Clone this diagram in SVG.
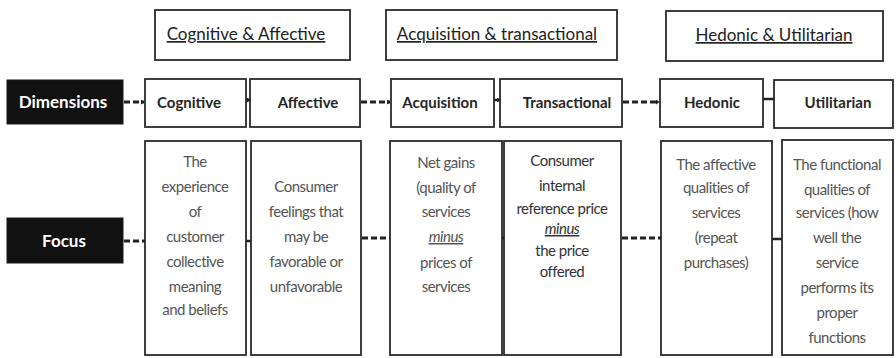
<svg xmlns="http://www.w3.org/2000/svg" width="896" height="358" viewBox="0 0 896 358">
  <style>
    .box { fill: #ffffff; stroke: #2b2b2b; stroke-width: 1.8; }
    .dark { fill: #111111; stroke: #1a1a1a; stroke-width: 1; }
    .title { font-family: Lato, "Liberation Sans", sans-serif; font-size: 17px; fill: #222; text-anchor: middle; text-decoration: underline; }
    .label { font-family: Lato, "Liberation Sans", sans-serif; font-size: 15px; font-weight: bold; fill: #262626; text-anchor: middle; }
    .head { font-family: Lato, "Liberation Sans", sans-serif; font-size: 17px; font-weight: bold; fill: #ffffff; text-anchor: middle; }
    .body { font-family: Lato, "Liberation Sans", sans-serif; font-size: 15px; fill: #555; text-anchor: middle; letter-spacing: -0.5px; }
    .body2 { font-family: Lato, "Liberation Sans", sans-serif; font-size: 15px; fill: #333; text-anchor: middle; letter-spacing: -0.5px; }
    .em { font-style: italic; text-decoration: underline; }
    .dash { stroke: #222; stroke-width: 3; stroke-dasharray: 6 3; fill: none; }
    .solid { stroke: #222; stroke-width: 2.5; fill: none; }
  </style>
  <defs>
    <marker id="tip" viewBox="0 0 6 8" refX="5" refY="4" markerWidth="4" markerHeight="5" orient="auto" markerUnits="userSpaceOnUse">
      <path d="M0,0 L6,4 L0,8 Z" fill="#222"/>
    </marker>
  </defs>

  <rect width="896" height="358" fill="#ffffff"/>

  <!-- category headers -->
  <g id="hdr-cognitive-affective">
    <rect class="box" x="155" y="10" width="195" height="50"/>
    <text class="title" x="246" y="40">Cognitive &amp; Affective</text>
  </g>
  <g id="hdr-acquisition-transactional">
    <rect class="box" x="386" y="10" width="231" height="50"/>
    <text class="title" x="497" y="40">Acquisition &amp; transactional</text>
  </g>
  <g id="hdr-hedonic-utilitarian">
    <rect class="box" x="666" y="11" width="217" height="50"/>
    <text class="title" x="774" y="41">Hedonic &amp; Utilitarian</text>
  </g>

  <!-- row headings -->
  <g id="dimensions">
    <rect class="dark" x="7" y="80" width="116" height="44"/>
    <text class="head" x="63" y="108">Dimensions</text>
  </g>
  <g id="focus">
    <rect class="dark" x="7" y="218" width="116" height="45"/>
    <text class="head" x="64" y="247">Focus</text>
  </g>

  <!-- dimension boxes -->
  <g id="dim-cognitive">
    <rect class="box" x="145" y="79" width="101" height="48"/>
    <text class="label" x="189" y="108">Cognitive</text>
  </g>
  <g id="dim-affective">
    <rect class="box" x="250" y="79" width="110" height="48"/>
    <text class="label" x="308" y="108">Affective</text>
  </g>
  <g id="dim-acquisition">
    <rect class="box" x="391" y="79" width="103" height="48"/>
    <text class="label" x="440" y="108">Acquisition</text>
  </g>
  <g id="dim-transactional">
    <rect class="box" x="500" y="79" width="122" height="48"/>
    <text class="label" x="567" y="108">Transactional</text>
  </g>
  <g id="dim-hedonic">
    <rect class="box" x="660" y="79" width="103" height="48"/>
    <text class="label" x="712" y="108">Hedonic</text>
  </g>
  <g id="dim-utilitarian">
    <rect class="box" x="774" y="80" width="119" height="48"/>
    <text class="label" x="838" y="108">Utilitarian</text>
  </g>

  <!-- focus boxes -->
  <g id="focus-cognitive">
    <rect class="box" x="145" y="141" width="101" height="214"/>
    <text class="body" x="195" y="167">The</text>
    <text class="body" x="195" y="192">experience</text>
    <text class="body" x="195" y="217">of</text>
    <text class="body" x="195" y="242">customer</text>
    <text class="body" x="195" y="267">collective</text>
    <text class="body" x="195" y="292">meaning</text>
    <text class="body" x="195" y="315">and beliefs</text>
  </g>
  <g id="focus-affective">
    <rect class="box" x="251" y="141" width="110" height="214"/>
    <text class="body" x="306" y="192">Consumer</text>
    <text class="body" x="306" y="217">feelings that</text>
    <text class="body" x="306" y="242">may be</text>
    <text class="body" x="306" y="267">favorable or</text>
    <text class="body" x="306" y="292">unfavorable</text>
  </g>
  <g id="focus-acquisition">
    <rect class="box" x="390" y="141" width="112" height="214"/>
    <text class="body" x="446" y="168">Net gains</text>
    <text class="body" x="446" y="193">(quality of</text>
    <text class="body" x="446" y="217">services</text>
    <text class="body em" x="446" y="242">minus</text>
    <text class="body" x="446" y="268">prices of</text>
    <text class="body" x="446" y="292">services</text>
  </g>
  <g id="focus-transactional">
    <rect class="box" x="504" y="141" width="117" height="214"/>
    <text class="body2" x="562" y="166">Consumer</text>
    <text class="body2" x="562" y="191">internal</text>
    <text class="body2" x="562" y="214">reference price</text>
    <text class="body2 em" x="562" y="234" font-size="13">minus</text>
    <text class="body2" x="562" y="256">the price</text>
    <text class="body2" x="562" y="277">offered</text>
  </g>
  <g id="focus-hedonic">
    <rect class="box" x="661" y="141" width="111" height="214"/>
    <text class="body" x="716" y="170">The affective</text>
    <text class="body" x="716" y="193">qualities of</text>
    <text class="body" x="716" y="218">services</text>
    <text class="body" x="716" y="243">(repeat</text>
    <text class="body" x="716" y="268">purchases)</text>
  </g>
  <g id="focus-utilitarian">
    <rect class="box" x="782" y="140" width="111" height="215"/>
    <text class="body" x="837" y="170">The functional</text>
    <text class="body" x="837" y="195">qualities of</text>
    <text class="body" x="837" y="218">services (how</text>
    <text class="body" x="837" y="243">well the</text>
    <text class="body" x="837" y="268">service</text>
    <text class="body" x="837" y="293">performs its</text>
    <text class="body" x="837" y="318">proper</text>
    <text class="body" x="837" y="343">functions</text>
  </g>

  <!-- connectors -->
  <g id="connectors">
    <line class="dash" x1="124" y1="102" x2="144" y2="102" marker-end="url(#tip)"/>
    <line class="solid" x1="246" y1="100" x2="250" y2="100" marker-end="url(#tip)"/>
    <line class="dash" x1="361" y1="102" x2="390" y2="102" marker-end="url(#tip)"/>
    <line class="solid" x1="494" y1="100" x2="500" y2="100" marker-end="url(#tip)"/>
    <line class="dash" x1="623" y1="102" x2="659" y2="102" marker-end="url(#tip)"/>
    <line class="solid" x1="763" y1="99" x2="774" y2="99"/>

    <line class="dash" x1="124" y1="241" x2="145" y2="241"/>
    <line class="solid" x1="246" y1="241" x2="251" y2="241"/>
    <line class="dash" x1="362" y1="238" x2="390" y2="238"/>
    <line class="solid" x1="502" y1="238" x2="504" y2="238"/>
    <line class="dash" x1="622" y1="238" x2="661" y2="238"/>
    <line class="solid" x1="772" y1="239" x2="782" y2="239"/>
  </g>
</svg>
